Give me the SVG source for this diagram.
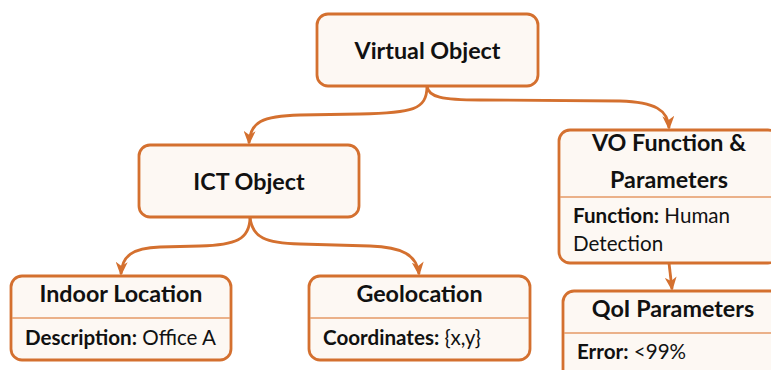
<svg xmlns="http://www.w3.org/2000/svg" width="771" height="370" viewBox="0 0 771 370">
  <style>
    .box { fill: #FDF8F3; stroke: #D4702F; stroke-width: 2.8; }
    .div { stroke: #E49A66; stroke-width: 1.4; }
    .title { font-family: Lato, "Liberation Sans", sans-serif; font-weight: bold; font-size: 23.3px; fill: #111; text-anchor: middle; }
    .body { font-family: Lato, "Liberation Sans", sans-serif; font-size: 20.6px; fill: #111; }
    .body .k { font-weight: bold; }
    .edge { fill: none; stroke: #D4702F; stroke-width: 2.8; marker-end: url(#arrow); }
  </style>
  <defs>
    <marker id="arrow" viewBox="0 0 14 12" refX="12" refY="6" markerWidth="14" markerHeight="12" markerUnits="userSpaceOnUse" orient="auto">
      <path d="M0,0 L14,6 L0,12 L4,6 Z" fill="#D4702F"/>
    </marker>
  </defs>

  <g id="connectors">
    <path class="edge" d="M427,86 C427,110 412,113 360,114 L300,115 C262,116 250,122 249,143"/>
    <path class="edge" d="M427,86 C428,97 442,100 480,100 L620,101 C655,102 668,110 669,128"/>
    <path class="edge" d="M250,217 C250,240 235,245 200,246 L160,247 C132,248 122,256 121,274"/>
    <path class="edge" d="M250,217 C252,238 266,243 300,244 L370,246 C402,247 417,255 419,274"/>
    <path class="edge" d="M669,263 L672,289"/>
  </g>

  <g id="virtual-object">
    <rect class="box" x="317" y="14" width="221" height="72" rx="11"/>
    <text class="title" x="427.5" y="59">Virtual Object</text>
  </g>

  <g id="ict-object">
    <rect class="box" x="139" y="145" width="220" height="72" rx="11"/>
    <text class="title" x="249" y="190">ICT Object</text>
  </g>

  <g id="indoor-location">
    <rect class="box" x="11" y="276" width="220" height="84" rx="11"/>
    <line class="div" x1="12" y1="318" x2="230" y2="318"/>
    <text class="title" x="121" y="302">Indoor Location</text>
    <text class="body" x="25" y="345"><tspan class="k">Description:</tspan> Office A</text>
  </g>

  <g id="geolocation">
    <rect class="box" x="309" y="276" width="221" height="84" rx="11"/>
    <line class="div" x1="310" y1="318" x2="529" y2="318"/>
    <text class="title" x="419.5" y="302">Geolocation</text>
    <text class="body" x="323" y="345"><tspan class="k">Coordinates:</tspan> {x,y}</text>
  </g>

  <g id="vo-function">
    <rect class="box" x="559" y="130" width="220" height="133" rx="11"/>
    <line class="div" x1="560" y1="197" x2="778" y2="197"/>
    <text class="title" x="669" y="151">VO Function &amp;</text>
    <text class="title" x="669" y="188">Parameters</text>
    <text class="body" x="573" y="223"><tspan class="k">Function:</tspan> Human</text>
    <text class="body" x="573" y="251">Detection</text>
  </g>

  <g id="qoi-parameters">
    <rect class="box" x="563" y="291" width="220" height="90" rx="11"/>
    <line class="div" x1="564" y1="333" x2="782" y2="333"/>
    <text class="title" x="673" y="317">QoI Parameters</text>
    <text class="body" x="577" y="359"><tspan class="k">Error:</tspan> &lt;99%</text>
  </g>
</svg>
